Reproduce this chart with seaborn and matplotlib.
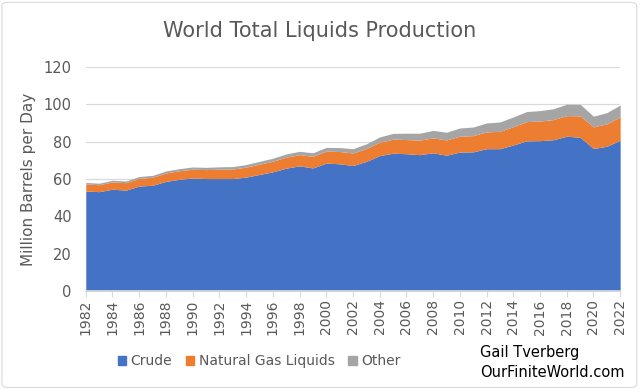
import matplotlib.pyplot as plt
import numpy as np
import pandas as pd
import seaborn as sns
from matplotlib.patches import FancyBboxPatch

years = list(range(1982, 2023))
crude = [53.5, 53.2, 54.5, 54.0, 56.2, 56.6, 58.7, 59.8, 60.5, 60.2,
         60.2, 60.2, 61.0, 62.4, 63.8, 65.8, 67.0, 65.9, 68.5, 68.1,
         67.2, 69.4, 72.5, 73.8, 73.5, 73.0, 74.0, 72.7, 74.4, 74.5,
         76.2, 76.2, 78.2, 80.4, 80.5, 81.0, 82.9, 82.3, 76.3, 77.5,
         80.7]
ngl = [3.8, 3.7, 3.9, 4.0, 4.1, 4.3, 4.5, 4.6, 4.7, 4.8,
       5.0, 5.1, 5.3, 5.5, 5.7, 5.9, 6.0, 6.2, 6.4, 6.6,
       6.7, 6.9, 7.2, 7.5, 7.6, 7.8, 8.0, 8.2, 8.5, 8.7,
       9.0, 9.3, 9.8, 10.3, 10.5, 10.8, 11.0, 11.5, 11.6, 12.0,
       12.6]
other = [0.8, 0.8, 0.9, 0.9, 1.0, 1.0, 1.1, 1.1, 1.2, 1.2,
         1.3, 1.3, 1.4, 1.5, 1.6, 1.7, 1.8, 1.9, 2.0, 2.1,
         2.3, 2.5, 2.8, 3.1, 3.4, 3.7, 4.0, 4.1, 4.4, 4.6,
         4.8, 5.0, 5.2, 5.4, 5.6, 5.8, 6.1, 6.2, 5.7, 6.0,
         6.3]
series_names = ["Crude", "Natural Gas Liquids", "Other"]
colors = ["#4472C4", "#ED7D31", "#A5A5A5"]

df = pd.DataFrame({"year": years, "Crude": crude,
                   "Natural Gas Liquids": ngl, "Other": other})

sns.set_theme(style="whitegrid")
plt.rcParams["font.family"] = ["DejaVu Sans"]

fig = plt.figure(figsize=(6.4, 3.89), dpi=100)
ax = fig.add_axes([0.134, 0.252, 0.835, 0.576])

ax.stackplot(df["year"], [df[n] for n in series_names],
             colors=colors, labels=series_names, linewidth=0)

ax.set_xlim(1982, 2022)
ax.set_ylim(0, 120)
ax.set_yticks(np.arange(0, 121, 20))
ax.set_xticks(np.arange(1982, 2023, 2))
ax.tick_params(axis="x", rotation=90, labelsize=10, colors="#595959",
               length=4, width=0.8, bottom=True, color="#D9D9D9", pad=2)
ax.tick_params(axis="y", labelsize=10.5, colors="#595959", length=0, pad=10)
ax.grid(axis="y", color="#D9D9D9", linewidth=0.9)
ax.grid(axis="x", visible=False)
for s in ["left", "right", "top"]:
    ax.spines[s].set_visible(False)
ax.spines["bottom"].set_color("#D9D9D9")
ax.set_axisbelow(True)
ax.set_xlabel("")
ax.set_ylabel("Million Barrels per Day", fontsize=11, color="#595959", labelpad=6)

fig.text(0.5, 0.92, "World Total Liquids Production", ha="center", va="center",
         fontsize=15, color="#595959")

handles = [plt.Rectangle((0, 0), 1, 1, color=c) for c in colors]
fig.legend(handles, series_names, loc="center", bbox_to_anchor=(0.405, 0.072),
           ncol=3, frameon=False, fontsize=10, handlelength=0.6, handleheight=0.6,
           handletextpad=0.3, columnspacing=1.0, labelcolor="#595959")

fig.text(0.75, 0.095, "Gail Tverberg", fontsize=10.5, color="black", va="center")
fig.text(0.75, 0.042, "OurFiniteWorld.com", fontsize=10.5, color="black", va="center")

fig.patches.append(FancyBboxPatch((0.003, 0.004), 0.992, 0.99,
                                  boxstyle="round,pad=0,rounding_size=0.01",
                                  transform=fig.transFigure, fill=False,
                                  edgecolor="#D9D9D9", linewidth=0.8))

fig.savefig("out.png", dpi=100)
